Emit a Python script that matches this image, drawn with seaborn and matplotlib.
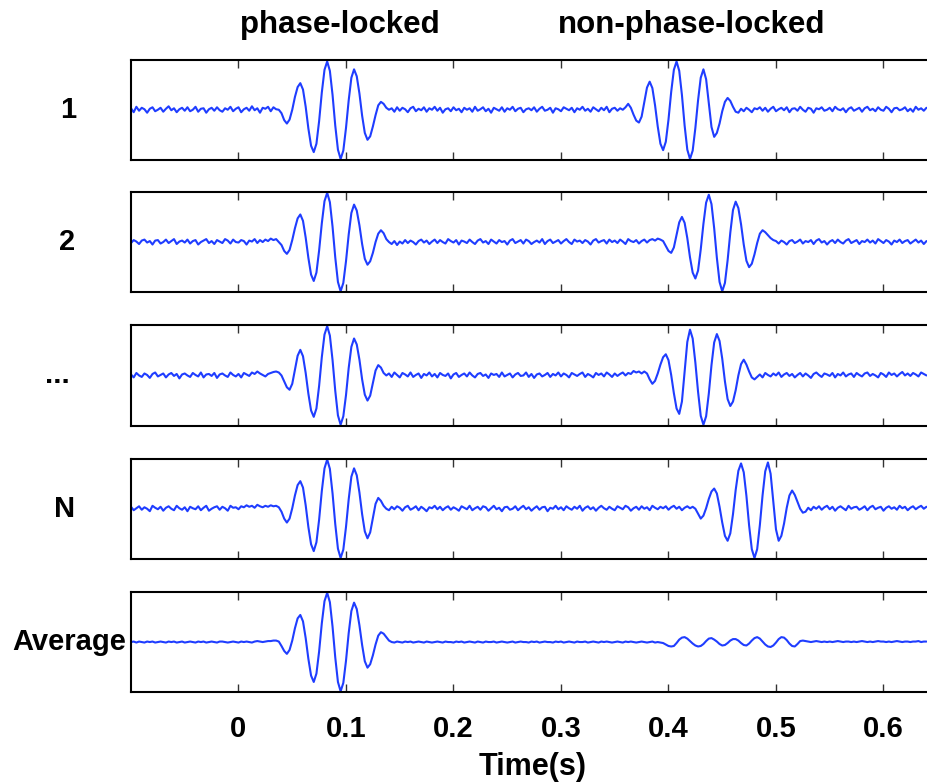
import numpy as np
import pandas as pd
import matplotlib
matplotlib.use("Agg")
import matplotlib.pyplot as plt
import seaborn as sns

# ---------------- data (amplitudes in hundredths of the panel half-height) ----------------
row_labels = ["1", "2", "...", "N", "Average"]
column_titles = ["phase-locked", "non-phase-locked"]
tick_values = [0, 0.1, 0.2, 0.3, 0.4, 0.5, 0.6]
tick_labels = ["0", "0.1", "0.2", "0.3", "0.4", "0.5", "0.6"]
time_start = -0.1     # s, first sample
time_step = 0.0025    # s, sample spacing

trial_1 = [
    3, -5, 6, -2, 4, 1, -6, 2, 5, -3,
    0, 4, -4, 2, 7, -1, 3, -5, 1, 4,
    -2, 5, -3, 0, 6, -4, 2, 3, -6, 1,
    4, -2, 5, -1, -4, 3, 0, 6, -3, 2,
    5, -5, 1, 4, -2, 7, -1, 3, -6, 4,
    2, 6, -3, 5, 1, 0, -7, -21, -28, -20,
    0, 26, 46, 54, 41, 6, -38, -73, -86, -69,
    -23, 35, 81, 98, 79, 30, -32, -81, -100, -83,
    -37, 19, 65, 82, 68, 33, -12, -47, -61, -54,
    -34, -11, 9, 16, 12, 4, 0, 3, -4, 5,
    -2, 4, 1, -5, 3, 6, -3, 2, -1, 5,
    -4, 3, 0, 6, -2, 4, -6, 1, 3, -3,
    5, -1, 2, -5, 4, 0, 3, -4, 6, -2,
    1, 5, -3, 2, -6, 4, 1, -2, 5, -4,
    3, 0, 6, -3, 2, 4, -5, 1, 3, -1,
    5, -4, 2, 6, -2, 0, 4, -6, 3, 1,
    -3, 5, 2, -1, 4, -5, 3, 0, 6, -2,
    2, -4, 5, 1, -3, 4, -1, 6, -5, 2,
    4, -2, 3, 0, 5, 12, 4, -10, -22, -26,
    -14, 16, 45, 57, 44, 9, -34, -69, -82, -65,
    -20, 36, 81, 98, 79, 30, -32, -81, -100, -83,
    -37, 19, 65, 82, 62, 14, -35, -55, -47, -28,
    -3, 16, 24, 18, 6, -4, -6, 2, -3, 4,
    0, -5, 3, 1, 5, -2, 4, -4, 2, 6,
    -3, 1, 4, -1, 5, -5, 2, 3, -2, 6,
    0, -4, 4, 2, -6, 3, 1, 5, -2, 0,
    4, -3, 6, 1, -1, 3, -5, 2, 5, -2,
    1, 4, -4, 3, 6, -1, 2, -3, 5, 0,
    -2, 6, 2, -5, 3, 4, -1, 1, 5, -3,
    2, -4, 6, 0, 3, -2, 4,
]

trial_2 = [
    -2, 4, 1, -4, 3, 5, -1, 2, -5, 3,
    4, -3, 0, 5, -2, 2, 6, -4, 1, 3,
    -1, 5, -3, 2, 4, -5, 0, 3, 6, -2,
    2, -4, 4, 1, -2, 6, 3, -3, 5, 0,
    -1, 4, 2, -5, 3, 1, 6, -2, 4, 0,
    5, 2, 7, 4, 6, 0, -6, -18, -24, -16,
    4, 28, 48, 56, 43, 9, -32, -66, -79, -62,
    -17, 38, 83, 100, 81, 31, -31, -81, -100, -83,
    -39, 15, 59, 76, 64, 34, -4, -34, -46, -39,
    -22, 0, 17, 24, 18, 6, 0, -4, 2, -6,
    1, -3, 4, -2, 3, 0, -5, 2, 5, -1,
    3, -4, 1, 5, -2, 4, 0, -3, 6, 2,
    -1, 4, -5, 3, 1, -2, 5, 0, -4, 3,
    6, -1, 2, -4, 5, 1, -3, 4, 0, 2,
    -5, 3, 6, -2, 1, 4, -3, 5, 2, -4,
    0, 3, -1, 6, -4, 2, 5, -2, 1, 4,
    -3, 2, 6, 0, -4, 5, 1, 3, -2, 4,
    1, -5, 3, 6, -1, 2, 4, -3, 5, 0,
    3, -2, 5, 1, -4, 6, 2, 0, 4, -3,
    2, 5, -1, 4, 6, 3, 7, 5, 2, -8,
    -18, -22, -11, 15, 40, 51, 39, 8, -31, -62,
    -74, -58, -15, 37, 80, 96, 77, 28, -32, -81,
    -100, -83, -37, 19, 65, 82, 69, 36, -5, -38,
    -51, -44, -25, -2, 17, 24, 20, 14, 8, 4,
    2, -3, 3, 0, -5, 2, 4, -2, 1, 5,
    -3, 2, 0, 4, -4, 3, 6, -1, 2, -5,
    1, 4, -2, 5, 0, -3, 3, 6, -2, 1,
    4, -4, 2, 0, 5, -1, 3, -3, 6, 2,
    -2, 4, 1, -5, 3, 0, 5, -2, 2, 4,
    -3, 1, 5, -1, 3, -4, 2,
]

trial_3 = [
    2, -4, 5, 0, -3, 4, 1, -5, 3, 6,
    -2, 1, 4, -4, 2, 5, -1, 3, -6, 2,
    4, 0, -3, 5, 1, -2, 6, -4, 2, 3,
    -1, 5, -5, 2, 4, 0, -3, 6, 1, -2,
    3, -4, 5, 2, -1, 6, 3, 8, 4, 1,
    -2, 3, 5, 7, 8, 6, 0, -12, -24, -29,
    -17, 12, 40, 52, 39, 5, -37, -71, -84, -67,
    -21, 37, 83, 100, 81, 31, -31, -81, -100, -83,
    -40, 15, 58, 75, 63, 32, -8, -39, -51, -41,
    -15, 10, 21, 16, 5, 0, 4, -3, 6, 1,
    -4, 5, 2, -2, 6, -3, 1, 4, -5, 3,
    0, 6, -2, 3, -4, 5, 1, -1, 4, -6,
    2, 5, -3, 1, 4, -2, 6, 0, -4, 3,
    5, -1, 2, -5, 4, 1, 3, -3, 6, -2,
    1, 4, -4, 2, 5, -1, 0, 6, -3, 3,
    -5, 2, 4, -2, 1, 5, -3, 3, 0, 6,
    -2, 4, 1, -4, 5, 2, -1, 3, 6, -3,
    3, 0, -4, 5, 1, 4, -2, 6, 2, -3,
    4, -1, 3, 6, 0, 5, 3, 9, 6, 8,
    4, 8, 4, -8, -17, -11, 4, 22, 37, 43,
    31, 1, -36, -67, -78, -53, 8, 68, 93, 75,
    26, -33, -82, -100, -83, -37, 21, 67, 84, 70,
    34, -12, -48, -62, -53, -30, 0, 23, 32, 22,
    8, -4, -8, -3, 2, -4, 5, 1, -2, 4,
    0, 6, -3, 2, 5, -1, 3, -4, 1, 5,
    -2, 4, 0, -5, 3, 6, 1, -3, 4, 2,
    -1, 5, -4, 3, 0, 6, -2, 2, 4, -3,
    5, 1, -2, 4, 6, -1, 3, 0, -4, 5,
    2, -3, 6, 1, 4, -2, 3, 7, 0, 4,
    -1, 5, 2, -2, 6, 3, 0,
]

trial_N = [
    4, -3, 1, 5, -2, 3, 0, -5, 6, 2,
    -1, 4, -4, 2, 5, 0, -3, 6, 1, -2,
    3, -5, 4, 1, -1, 5, -3, 2, 6, -4,
    0, 3, 5, -2, 4, 1, -4, 6, 2, 3,
    -1, 5, 3, 7, 4, 6, 2, 8, 5, 3,
    6, 4, 7, 5, 6, 3, -6, -20, -28, -20,
    1, 27, 48, 56, 43, 7, -37, -72, -86, -68,
    -22, 36, 82, 100, 81, 31, -31, -81, -100, -83,
    -37, 19, 65, 82, 68, 33, -11, -46, -60, -48,
    -19, 10, 22, 16, 6, 0, -3, 4, -1, 5,
    2, -4, 3, 6, -2, 1, 5, -3, 4, 0,
    -5, 3, 1, 6, -1, 4, -3, 2, 5, -2,
    3, 0, -4, 5, 2, -1, 6, -3, 1, 4,
    -2, 5, 3, -4, 1, 6, -1, 2, -5, 3,
    4, -2, 0, 5, -3, 2, 6, -1, 3, -4,
    1, 5, -2, 3, 4, -5, 2, 0, 6, -1,
    3, -3, 5, 1, -2, 4, 0, 6, -4, 2,
    5, -1, 3, -4, 2, 6, 1, -2, 4, 0,
    -3, 5, 2, -1, 6, 3, -4, 1, 4, -2,
    5, 0, 3, -3, 6, 2, -1, 4, 1, 5,
    -2, 3, 6, 0, 4, -3, 2, 5, 1, 4,
    0, -10, -20, -14, 1, 20, 35, 41, 31, 4,
    -28, -55, -65, -50, -11, 38, 77, 92, 74, 26,
    -34, -82, -100, -82, -33, 27, 76, 94, 71, 15,
    -42, -65, -55, -30, 2, 27, 37, 28, 14, 0,
    -8, -6, 2, -3, 4, 0, 5, -2, 3, 6,
    -1, 4, -4, 2, 5, 1, -3, 6, 0, 3,
    4, -2, 1, 5, -3, 3, 6, -1, 2, 4,
    -4, 2, 5, 0, 3, -2, 6, 1, 4, -3,
    2, 5, -1, 3, 6, 0, 4,
]

average = [
    0, 1, -1, 1, 0, -1, 1, 0, 1, -1,
    0, 1, 0, -1, 1, 0, 1, -1, 0, 1,
    -1, 0, 1, 0, -1, 1, 0, 1, -1, 0,
    1, 0, -1, 1, 1, 0, -1, 0, 1, 0,
    -1, 1, 0, 1, 0, -1, 1, 2, 1, 0,
    1, 2, 2, 3, 3, 1, -8, -18, -24, -16,
    3, 28, 48, 55, 42, 8, -34, -68, -81, -64,
    -19, 38, 83, 100, 81, 31, -31, -81, -100, -83,
    -38, 18, 63, 80, 67, 34, -6, -39, -52, -45,
    -27, -5, 13, 20, 17, 10, 3, 0, -1, 1,
    0, -1, 1, 0, 1, -1, 0, 1, 0, -1,
    1, 0, -1, 0, 1, 0, -1, 1, 0, 0,
    -1, 1, 0, 1, -1, 0, 1, 0, -1, 1,
    0, -1, 1, 0, 0, 1, -1, 0, 1, 0,
    -1, 0, 1, -1, 0, 1, 0, 0, -1, 1,
    0, 1, -1, 0, 1, 0, 0, -1, 1, 0,
    1, -1, 0, 1, 0, -1, 1, 0, 0, 1,
    -1, 0, 1, 0, -1, 1, 0, 1, 0, -1,
    0, 1, 0, -1, 1, 0, 1, 0, -1, 0,
    1, 0, -1, 0, 1, -1, 0, -1, -2, -5,
    -8, -9, -8, -2, 5, 9, 10, 7, 2, -3,
    -7, -9, -8, -4, 2, 7, 8, 5, 1, -4,
    -7, -6, -2, 3, 6, 6, 3, -2, -6, -7,
    -3, 3, 8, 10, 7, 1, -5, -9, -10, -7,
    -1, 6, 10, 9, 4, -3, -8, -9, -4, 2,
    3, 2, 1, 0, 1, 2, 1, 0, 1, 0,
    1, 0, 1, 2, 1, 0, 1, 1, 0, 1,
    0, 1, 2, 1, 0, 1, 0, 1, 2, 1,
    1, 0, 1, 0, 1, 2, 1, 0, 1, 1,
    0, 1, 1, 2, 0, 1, 1,
]

series = [trial_1, trial_2, trial_3, trial_N, average]

# ---------------- style ----------------
sns.set_theme(style="white")
plt.rcParams['font.family'] = ['Liberation Sans', 'DejaVu Sans']
plt.rcParams['font.weight'] = 'bold'
plt.rcParams['text.color'] = 'black'
plt.rcParams['xtick.labelcolor'] = 'black'

W, H = 928, 782
fig = plt.figure(figsize=(W / 100, H / 100), dpi=100)

line_color = "#1f3dff"
ax_left, ax_right = 131, 931
panel_tops = [59.5, 191.8, 325.2, 458.5, 591.8]
panel_h = 100.5
label_x = [68, 67, 57, 65, 69]

for k, (lab, vals) in enumerate(zip(row_labels, series)):
    ax = fig.add_axes([ax_left / W, 1 - (panel_tops[k] + panel_h) / H,
                       (ax_right - ax_left) / W, panel_h / H])
    df = pd.DataFrame({"time": time_start + time_step * np.arange(len(vals)),
                       "value": vals})
    sns.lineplot(data=df, x="time", y="value", ax=ax, color=line_color,
                 linewidth=1.5, estimator=None)
    ax.set_xlim(-0.1, 0.6442)
    ax.set_ylim(-102, 102)
    ax.set_yticks([])
    ax.set_xticks(tick_values)
    ax.set_xticklabels(tick_labels)
    ax.set_xlabel("")
    ax.set_ylabel("")
    ax.tick_params(axis="x", direction="in", top=True, bottom=True,
                   length=6, width=1.0, color="#333333", labelcolor="black",
                   labelbottom=(k == len(series) - 1), labelsize=21, pad=16)
    for lbl in ax.get_xticklabels():
        lbl.set_fontweight("bold")
    for s in ax.spines.values():
        s.set_color("black")
        s.set_linewidth(1.5)
        s.set_visible(True)
    fig.text(label_x[k] / W, 1 - (panel_tops[k] + panel_h / 2) / H, lab,
             ha="center", va="center", fontsize=21, fontweight="bold",
             color="black")

fig.text(340 / W, 1 - 25 / H, column_titles[0], ha="center", va="center",
         fontsize=22.5, fontweight="bold", color="black")
fig.text(692 / W, 1 - 25 / H, column_titles[1], ha="center", va="center",
         fontsize=22.5, fontweight="bold", color="black")
fig.text(533 / W, 1 - 767 / H, "Time(s)", ha="center", va="center",
         fontsize=22, fontweight="bold", color="black")

fig.savefig("out.png", dpi=100)
